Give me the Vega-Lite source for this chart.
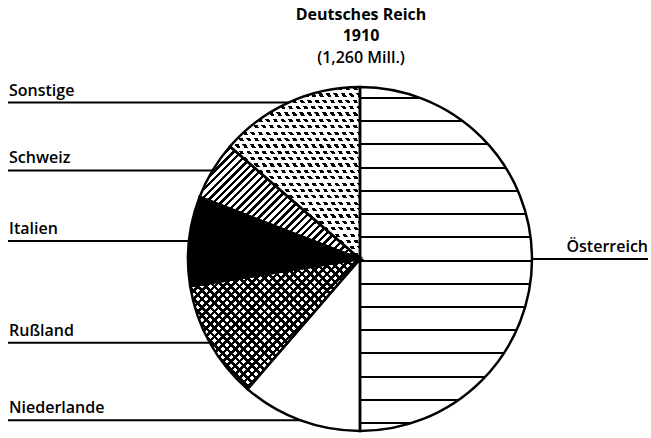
{
 "$schema": "https://vega.github.io/schema/vega-lite/v6.json",
 "width": 640, "height": 366,
 "autosize": {"type": "none"},
 "padding": {"left": 8, "right": 3, "top": 72, "bottom": 0},
 "background": "white",
 "title": {"text": ["Deutsches Reich", "1910"], "subtitle": "(1,260 Mill.)", "anchor": "middle", "dx": 33, "offset": 6, "font": "Open Sans", "fontSize": 16, "fontWeight": "bold", "lineHeight": 21, "color": "black", "subtitleFont": "Open Sans", "subtitleFontSize": 16, "subtitleFontWeight": 600, "subtitleColor": "black", "subtitleLineHeight": 21, "subtitlePadding": 6},
 "data": {"values": [
  {"Nr": 1, "Land": "Österreich", "Wert": 630},
  {"Nr": 2, "Land": "Niederlande", "Wert": 143},
  {"Nr": 3, "Land": "Rußland", "Wert": 140},
  {"Nr": 4, "Land": "Italien", "Wert": 106},
  {"Nr": 5, "Land": "Schweiz", "Wert": 69},
  {"Nr": 6, "Land": "Sonstige", "Wert": 172}
 ]},
 "transform": [
  {"stack": "Wert", "groupby": [], "offset": "normalize", "sort": [{"field": "Nr", "order": "ascending"}], "as": ["w0", "w1"]},
  {"calculate": "PI*(datum.w0+datum.w1)", "as": "mitte"},
  {"calculate": "sin(datum.mitte)", "as": "ex"},
  {"calculate": "cos(datum.mitte)", "as": "ey"}
 ],
 "layer": [
  {
   "encoding": {
    "theta": {"field": "w0", "type": "quantitative", "scale": {"domain": [0, 1], "nice": false, "zero": true}},
    "theta2": {"field": "w1"},
    "x": {"datum": 0, "type": "quantitative", "scale": {"domain": [-2.0465, 1.6744], "nice": false, "zero": false}, "axis": null},
    "y": {"datum": 0, "type": "quantitative", "scale": {"domain": [-1.0407, 1.0872], "nice": false, "zero": false}, "axis": null}
   },
   "layer": [
    {"mark": {"type": "arc", "radius": 172, "strokeWidth": 0},
     "encoding": {"fill": {"field": "Land", "type": "nominal", "legend": null, "scale": {"domain": ["Österreich", "Niederlande", "Rußland", "Italien", "Schweiz", "Sonstige"], "range": ["white", "white", "white", "black", "white", "black"]}}}},
    {"transform": [{"filter": "datum.Land === 'Österreich'"}],
     "mark": {"type": "arc", "radius": 172, "strokeWidth": 0, "fill": {"gradient": "linear", "x1": 0, "y1": 0, "x2": 0, "y2": 1, "stops": [
      {"offset": 0, "color": "transparent"},
      {"offset": 0.0292, "color": "transparent"}, {"offset": 0.0292, "color": "black"}, {"offset": 0.0348, "color": "black"}, {"offset": 0.0348, "color": "transparent"},
      {"offset": 0.0967, "color": "transparent"}, {"offset": 0.0967, "color": "black"}, {"offset": 0.1023, "color": "black"}, {"offset": 0.1023, "color": "transparent"},
      {"offset": 0.1642, "color": "transparent"}, {"offset": 0.1642, "color": "black"}, {"offset": 0.1698, "color": "black"}, {"offset": 0.1698, "color": "transparent"},
      {"offset": 0.2317, "color": "transparent"}, {"offset": 0.2317, "color": "black"}, {"offset": 0.2373, "color": "black"}, {"offset": 0.2373, "color": "transparent"},
      {"offset": 0.2992, "color": "transparent"}, {"offset": 0.2992, "color": "black"}, {"offset": 0.3048, "color": "black"}, {"offset": 0.3048, "color": "transparent"},
      {"offset": 0.3667, "color": "transparent"}, {"offset": 0.3667, "color": "black"}, {"offset": 0.3723, "color": "black"}, {"offset": 0.3723, "color": "transparent"},
      {"offset": 0.4342, "color": "transparent"}, {"offset": 0.4342, "color": "black"}, {"offset": 0.4398, "color": "black"}, {"offset": 0.4398, "color": "transparent"},
      {"offset": 0.5017, "color": "transparent"}, {"offset": 0.5017, "color": "black"}, {"offset": 0.5073, "color": "black"}, {"offset": 0.5073, "color": "transparent"},
      {"offset": 0.5692, "color": "transparent"}, {"offset": 0.5692, "color": "black"}, {"offset": 0.5748, "color": "black"}, {"offset": 0.5748, "color": "transparent"},
      {"offset": 0.6367, "color": "transparent"}, {"offset": 0.6367, "color": "black"}, {"offset": 0.6423, "color": "black"}, {"offset": 0.6423, "color": "transparent"},
      {"offset": 0.7042, "color": "transparent"}, {"offset": 0.7042, "color": "black"}, {"offset": 0.7098, "color": "black"}, {"offset": 0.7098, "color": "transparent"},
      {"offset": 0.7717, "color": "transparent"}, {"offset": 0.7717, "color": "black"}, {"offset": 0.7773, "color": "black"}, {"offset": 0.7773, "color": "transparent"},
      {"offset": 0.8392, "color": "transparent"}, {"offset": 0.8392, "color": "black"}, {"offset": 0.8448, "color": "black"}, {"offset": 0.8448, "color": "transparent"},
      {"offset": 0.9067, "color": "transparent"}, {"offset": 0.9067, "color": "black"}, {"offset": 0.9123, "color": "black"}, {"offset": 0.9123, "color": "transparent"},
      {"offset": 0.9742, "color": "transparent"}, {"offset": 0.9742, "color": "black"}, {"offset": 0.9798, "color": "black"}, {"offset": 0.9798, "color": "transparent"},
      {"offset": 1, "color": "transparent"}
     ]}}},
    {"transform": [{"filter": "datum.Land === 'Schweiz'"}],
     "mark": {"type": "arc", "radius": 172, "strokeWidth": 0, "fill": {"gradient": "linear", "x1": 0, "y1": 0, "x2": 1.1403, "y2": 0.8, "stops": [
      {"offset": 0, "color": "black"}, {"offset": 0.0125, "color": "black"}, {"offset": 0.0125, "color": "transparent"}, {"offset": 0.0278, "color": "transparent"},
      {"offset": 0.0278, "color": "black"}, {"offset": 0.0403, "color": "black"}, {"offset": 0.0403, "color": "transparent"}, {"offset": 0.0556, "color": "transparent"},
      {"offset": 0.0556, "color": "black"}, {"offset": 0.0681, "color": "black"}, {"offset": 0.0681, "color": "transparent"}, {"offset": 0.0833, "color": "transparent"},
      {"offset": 0.0833, "color": "black"}, {"offset": 0.0958, "color": "black"}, {"offset": 0.0958, "color": "transparent"}, {"offset": 0.1111, "color": "transparent"},
      {"offset": 0.1111, "color": "black"}, {"offset": 0.1236, "color": "black"}, {"offset": 0.1236, "color": "transparent"}, {"offset": 0.1389, "color": "transparent"},
      {"offset": 0.1389, "color": "black"}, {"offset": 0.1514, "color": "black"}, {"offset": 0.1514, "color": "transparent"}, {"offset": 0.1667, "color": "transparent"},
      {"offset": 0.1667, "color": "black"}, {"offset": 0.1792, "color": "black"}, {"offset": 0.1792, "color": "transparent"}, {"offset": 0.1944, "color": "transparent"},
      {"offset": 0.1944, "color": "black"}, {"offset": 0.2069, "color": "black"}, {"offset": 0.2069, "color": "transparent"}, {"offset": 0.2222, "color": "transparent"},
      {"offset": 0.2222, "color": "black"}, {"offset": 0.2347, "color": "black"}, {"offset": 0.2347, "color": "transparent"}, {"offset": 0.25, "color": "transparent"},
      {"offset": 0.25, "color": "black"}, {"offset": 0.2625, "color": "black"}, {"offset": 0.2625, "color": "transparent"}, {"offset": 0.2778, "color": "transparent"},
      {"offset": 0.2778, "color": "black"}, {"offset": 0.2903, "color": "black"}, {"offset": 0.2903, "color": "transparent"}, {"offset": 0.3056, "color": "transparent"},
      {"offset": 0.3056, "color": "black"}, {"offset": 0.3181, "color": "black"}, {"offset": 0.3181, "color": "transparent"}, {"offset": 0.3333, "color": "transparent"},
      {"offset": 0.3333, "color": "black"}, {"offset": 0.3458, "color": "black"}, {"offset": 0.3458, "color": "transparent"}, {"offset": 0.3611, "color": "transparent"},
      {"offset": 0.3611, "color": "black"}, {"offset": 0.3736, "color": "black"}, {"offset": 0.3736, "color": "transparent"}, {"offset": 0.3889, "color": "transparent"},
      {"offset": 0.3889, "color": "black"}, {"offset": 0.4014, "color": "black"}, {"offset": 0.4014, "color": "transparent"}, {"offset": 0.4167, "color": "transparent"},
      {"offset": 0.4167, "color": "black"}, {"offset": 0.4292, "color": "black"}, {"offset": 0.4292, "color": "transparent"}, {"offset": 0.4444, "color": "transparent"},
      {"offset": 0.4444, "color": "black"}, {"offset": 0.4569, "color": "black"}, {"offset": 0.4569, "color": "transparent"}, {"offset": 0.4722, "color": "transparent"},
      {"offset": 0.4722, "color": "black"}, {"offset": 0.4847, "color": "black"}, {"offset": 0.4847, "color": "transparent"}, {"offset": 0.5, "color": "transparent"},
      {"offset": 0.5, "color": "black"}, {"offset": 0.5125, "color": "black"}, {"offset": 0.5125, "color": "transparent"}, {"offset": 0.5278, "color": "transparent"},
      {"offset": 0.5278, "color": "black"}, {"offset": 0.5403, "color": "black"}, {"offset": 0.5403, "color": "transparent"}, {"offset": 0.5556, "color": "transparent"},
      {"offset": 0.5556, "color": "black"}, {"offset": 0.5681, "color": "black"}, {"offset": 0.5681, "color": "transparent"}, {"offset": 0.5833, "color": "transparent"},
      {"offset": 0.5833, "color": "black"}, {"offset": 0.5958, "color": "black"}, {"offset": 0.5958, "color": "transparent"}, {"offset": 0.6111, "color": "transparent"},
      {"offset": 0.6111, "color": "black"}, {"offset": 0.6236, "color": "black"}, {"offset": 0.6236, "color": "transparent"}, {"offset": 0.6389, "color": "transparent"},
      {"offset": 0.6389, "color": "black"}, {"offset": 0.6514, "color": "black"}, {"offset": 0.6514, "color": "transparent"}, {"offset": 0.6667, "color": "transparent"},
      {"offset": 0.6667, "color": "black"}, {"offset": 0.6792, "color": "black"}, {"offset": 0.6792, "color": "transparent"}, {"offset": 0.6944, "color": "transparent"},
      {"offset": 0.6944, "color": "black"}, {"offset": 0.7069, "color": "black"}, {"offset": 0.7069, "color": "transparent"}, {"offset": 0.7222, "color": "transparent"},
      {"offset": 0.7222, "color": "black"}, {"offset": 0.7347, "color": "black"}, {"offset": 0.7347, "color": "transparent"}, {"offset": 0.75, "color": "transparent"},
      {"offset": 0.75, "color": "black"}, {"offset": 0.7625, "color": "black"}, {"offset": 0.7625, "color": "transparent"}, {"offset": 0.7778, "color": "transparent"},
      {"offset": 0.7778, "color": "black"}, {"offset": 0.7903, "color": "black"}, {"offset": 0.7903, "color": "transparent"}, {"offset": 0.8056, "color": "transparent"},
      {"offset": 0.8056, "color": "black"}, {"offset": 0.8181, "color": "black"}, {"offset": 0.8181, "color": "transparent"}, {"offset": 0.8333, "color": "transparent"},
      {"offset": 0.8333, "color": "black"}, {"offset": 0.8458, "color": "black"}, {"offset": 0.8458, "color": "transparent"}, {"offset": 0.8611, "color": "transparent"},
      {"offset": 0.8611, "color": "black"}, {"offset": 0.8736, "color": "black"}, {"offset": 0.8736, "color": "transparent"}, {"offset": 0.8889, "color": "transparent"},
      {"offset": 0.8889, "color": "black"}, {"offset": 0.9014, "color": "black"}, {"offset": 0.9014, "color": "transparent"}, {"offset": 0.9167, "color": "transparent"},
      {"offset": 0.9167, "color": "black"}, {"offset": 0.9292, "color": "black"}, {"offset": 0.9292, "color": "transparent"}, {"offset": 0.9444, "color": "transparent"},
      {"offset": 0.9444, "color": "black"}, {"offset": 0.9569, "color": "black"}, {"offset": 0.9569, "color": "transparent"}, {"offset": 0.9722, "color": "transparent"},
      {"offset": 0.9722, "color": "black"}, {"offset": 0.9847, "color": "black"}, {"offset": 0.9847, "color": "transparent"}, {"offset": 1, "color": "transparent"}
     ]}}},
    {"transform": [{"filter": "datum.Land === 'Rußland'"}],
     "mark": {"type": "arc", "radius": 172, "strokeWidth": 0, "fill": {"gradient": "linear", "x1": 0, "y1": 0, "x2": 1.1132, "y2": 0.8523, "stops": [
      {"offset": 0, "color": "black"}, {"offset": 0.0125, "color": "black"}, {"offset": 0.0125, "color": "transparent"}, {"offset": 0.0278, "color": "transparent"},
      {"offset": 0.0278, "color": "black"}, {"offset": 0.0403, "color": "black"}, {"offset": 0.0403, "color": "transparent"}, {"offset": 0.0556, "color": "transparent"},
      {"offset": 0.0556, "color": "black"}, {"offset": 0.0681, "color": "black"}, {"offset": 0.0681, "color": "transparent"}, {"offset": 0.0833, "color": "transparent"},
      {"offset": 0.0833, "color": "black"}, {"offset": 0.0958, "color": "black"}, {"offset": 0.0958, "color": "transparent"}, {"offset": 0.1111, "color": "transparent"},
      {"offset": 0.1111, "color": "black"}, {"offset": 0.1236, "color": "black"}, {"offset": 0.1236, "color": "transparent"}, {"offset": 0.1389, "color": "transparent"},
      {"offset": 0.1389, "color": "black"}, {"offset": 0.1514, "color": "black"}, {"offset": 0.1514, "color": "transparent"}, {"offset": 0.1667, "color": "transparent"},
      {"offset": 0.1667, "color": "black"}, {"offset": 0.1792, "color": "black"}, {"offset": 0.1792, "color": "transparent"}, {"offset": 0.1944, "color": "transparent"},
      {"offset": 0.1944, "color": "black"}, {"offset": 0.2069, "color": "black"}, {"offset": 0.2069, "color": "transparent"}, {"offset": 0.2222, "color": "transparent"},
      {"offset": 0.2222, "color": "black"}, {"offset": 0.2347, "color": "black"}, {"offset": 0.2347, "color": "transparent"}, {"offset": 0.25, "color": "transparent"},
      {"offset": 0.25, "color": "black"}, {"offset": 0.2625, "color": "black"}, {"offset": 0.2625, "color": "transparent"}, {"offset": 0.2778, "color": "transparent"},
      {"offset": 0.2778, "color": "black"}, {"offset": 0.2903, "color": "black"}, {"offset": 0.2903, "color": "transparent"}, {"offset": 0.3056, "color": "transparent"},
      {"offset": 0.3056, "color": "black"}, {"offset": 0.3181, "color": "black"}, {"offset": 0.3181, "color": "transparent"}, {"offset": 0.3333, "color": "transparent"},
      {"offset": 0.3333, "color": "black"}, {"offset": 0.3458, "color": "black"}, {"offset": 0.3458, "color": "transparent"}, {"offset": 0.3611, "color": "transparent"},
      {"offset": 0.3611, "color": "black"}, {"offset": 0.3736, "color": "black"}, {"offset": 0.3736, "color": "transparent"}, {"offset": 0.3889, "color": "transparent"},
      {"offset": 0.3889, "color": "black"}, {"offset": 0.4014, "color": "black"}, {"offset": 0.4014, "color": "transparent"}, {"offset": 0.4167, "color": "transparent"},
      {"offset": 0.4167, "color": "black"}, {"offset": 0.4292, "color": "black"}, {"offset": 0.4292, "color": "transparent"}, {"offset": 0.4444, "color": "transparent"},
      {"offset": 0.4444, "color": "black"}, {"offset": 0.4569, "color": "black"}, {"offset": 0.4569, "color": "transparent"}, {"offset": 0.4722, "color": "transparent"},
      {"offset": 0.4722, "color": "black"}, {"offset": 0.4847, "color": "black"}, {"offset": 0.4847, "color": "transparent"}, {"offset": 0.5, "color": "transparent"},
      {"offset": 0.5, "color": "black"}, {"offset": 0.5125, "color": "black"}, {"offset": 0.5125, "color": "transparent"}, {"offset": 0.5278, "color": "transparent"},
      {"offset": 0.5278, "color": "black"}, {"offset": 0.5403, "color": "black"}, {"offset": 0.5403, "color": "transparent"}, {"offset": 0.5556, "color": "transparent"},
      {"offset": 0.5556, "color": "black"}, {"offset": 0.5681, "color": "black"}, {"offset": 0.5681, "color": "transparent"}, {"offset": 0.5833, "color": "transparent"},
      {"offset": 0.5833, "color": "black"}, {"offset": 0.5958, "color": "black"}, {"offset": 0.5958, "color": "transparent"}, {"offset": 0.6111, "color": "transparent"},
      {"offset": 0.6111, "color": "black"}, {"offset": 0.6236, "color": "black"}, {"offset": 0.6236, "color": "transparent"}, {"offset": 0.6389, "color": "transparent"},
      {"offset": 0.6389, "color": "black"}, {"offset": 0.6514, "color": "black"}, {"offset": 0.6514, "color": "transparent"}, {"offset": 0.6667, "color": "transparent"},
      {"offset": 0.6667, "color": "black"}, {"offset": 0.6792, "color": "black"}, {"offset": 0.6792, "color": "transparent"}, {"offset": 0.6944, "color": "transparent"},
      {"offset": 0.6944, "color": "black"}, {"offset": 0.7069, "color": "black"}, {"offset": 0.7069, "color": "transparent"}, {"offset": 0.7222, "color": "transparent"},
      {"offset": 0.7222, "color": "black"}, {"offset": 0.7347, "color": "black"}, {"offset": 0.7347, "color": "transparent"}, {"offset": 0.75, "color": "transparent"},
      {"offset": 0.75, "color": "black"}, {"offset": 0.7625, "color": "black"}, {"offset": 0.7625, "color": "transparent"}, {"offset": 0.7778, "color": "transparent"},
      {"offset": 0.7778, "color": "black"}, {"offset": 0.7903, "color": "black"}, {"offset": 0.7903, "color": "transparent"}, {"offset": 0.8056, "color": "transparent"},
      {"offset": 0.8056, "color": "black"}, {"offset": 0.8181, "color": "black"}, {"offset": 0.8181, "color": "transparent"}, {"offset": 0.8333, "color": "transparent"},
      {"offset": 0.8333, "color": "black"}, {"offset": 0.8458, "color": "black"}, {"offset": 0.8458, "color": "transparent"}, {"offset": 0.8611, "color": "transparent"},
      {"offset": 0.8611, "color": "black"}, {"offset": 0.8736, "color": "black"}, {"offset": 0.8736, "color": "transparent"}, {"offset": 0.8889, "color": "transparent"},
      {"offset": 0.8889, "color": "black"}, {"offset": 0.9014, "color": "black"}, {"offset": 0.9014, "color": "transparent"}, {"offset": 0.9167, "color": "transparent"},
      {"offset": 0.9167, "color": "black"}, {"offset": 0.9292, "color": "black"}, {"offset": 0.9292, "color": "transparent"}, {"offset": 0.9444, "color": "transparent"},
      {"offset": 0.9444, "color": "black"}, {"offset": 0.9569, "color": "black"}, {"offset": 0.9569, "color": "transparent"}, {"offset": 0.9722, "color": "transparent"},
      {"offset": 0.9722, "color": "black"}, {"offset": 0.9847, "color": "black"}, {"offset": 0.9847, "color": "transparent"}, {"offset": 1, "color": "transparent"}
     ]}}},
    {"transform": [{"filter": "datum.Land === 'Rußland'"}],
     "mark": {"type": "arc", "radius": 172, "strokeWidth": 0, "fill": {"gradient": "linear", "x1": 0, "y1": 1, "x2": 1.1132, "y2": 0.1477, "stops": [
      {"offset": 0, "color": "black"}, {"offset": 0.0125, "color": "black"}, {"offset": 0.0125, "color": "transparent"}, {"offset": 0.0278, "color": "transparent"},
      {"offset": 0.0278, "color": "black"}, {"offset": 0.0403, "color": "black"}, {"offset": 0.0403, "color": "transparent"}, {"offset": 0.0556, "color": "transparent"},
      {"offset": 0.0556, "color": "black"}, {"offset": 0.0681, "color": "black"}, {"offset": 0.0681, "color": "transparent"}, {"offset": 0.0833, "color": "transparent"},
      {"offset": 0.0833, "color": "black"}, {"offset": 0.0958, "color": "black"}, {"offset": 0.0958, "color": "transparent"}, {"offset": 0.1111, "color": "transparent"},
      {"offset": 0.1111, "color": "black"}, {"offset": 0.1236, "color": "black"}, {"offset": 0.1236, "color": "transparent"}, {"offset": 0.1389, "color": "transparent"},
      {"offset": 0.1389, "color": "black"}, {"offset": 0.1514, "color": "black"}, {"offset": 0.1514, "color": "transparent"}, {"offset": 0.1667, "color": "transparent"},
      {"offset": 0.1667, "color": "black"}, {"offset": 0.1792, "color": "black"}, {"offset": 0.1792, "color": "transparent"}, {"offset": 0.1944, "color": "transparent"},
      {"offset": 0.1944, "color": "black"}, {"offset": 0.2069, "color": "black"}, {"offset": 0.2069, "color": "transparent"}, {"offset": 0.2222, "color": "transparent"},
      {"offset": 0.2222, "color": "black"}, {"offset": 0.2347, "color": "black"}, {"offset": 0.2347, "color": "transparent"}, {"offset": 0.25, "color": "transparent"},
      {"offset": 0.25, "color": "black"}, {"offset": 0.2625, "color": "black"}, {"offset": 0.2625, "color": "transparent"}, {"offset": 0.2778, "color": "transparent"},
      {"offset": 0.2778, "color": "black"}, {"offset": 0.2903, "color": "black"}, {"offset": 0.2903, "color": "transparent"}, {"offset": 0.3056, "color": "transparent"},
      {"offset": 0.3056, "color": "black"}, {"offset": 0.3181, "color": "black"}, {"offset": 0.3181, "color": "transparent"}, {"offset": 0.3333, "color": "transparent"},
      {"offset": 0.3333, "color": "black"}, {"offset": 0.3458, "color": "black"}, {"offset": 0.3458, "color": "transparent"}, {"offset": 0.3611, "color": "transparent"},
      {"offset": 0.3611, "color": "black"}, {"offset": 0.3736, "color": "black"}, {"offset": 0.3736, "color": "transparent"}, {"offset": 0.3889, "color": "transparent"},
      {"offset": 0.3889, "color": "black"}, {"offset": 0.4014, "color": "black"}, {"offset": 0.4014, "color": "transparent"}, {"offset": 0.4167, "color": "transparent"},
      {"offset": 0.4167, "color": "black"}, {"offset": 0.4292, "color": "black"}, {"offset": 0.4292, "color": "transparent"}, {"offset": 0.4444, "color": "transparent"},
      {"offset": 0.4444, "color": "black"}, {"offset": 0.4569, "color": "black"}, {"offset": 0.4569, "color": "transparent"}, {"offset": 0.4722, "color": "transparent"},
      {"offset": 0.4722, "color": "black"}, {"offset": 0.4847, "color": "black"}, {"offset": 0.4847, "color": "transparent"}, {"offset": 0.5, "color": "transparent"},
      {"offset": 0.5, "color": "black"}, {"offset": 0.5125, "color": "black"}, {"offset": 0.5125, "color": "transparent"}, {"offset": 0.5278, "color": "transparent"},
      {"offset": 0.5278, "color": "black"}, {"offset": 0.5403, "color": "black"}, {"offset": 0.5403, "color": "transparent"}, {"offset": 0.5556, "color": "transparent"},
      {"offset": 0.5556, "color": "black"}, {"offset": 0.5681, "color": "black"}, {"offset": 0.5681, "color": "transparent"}, {"offset": 0.5833, "color": "transparent"},
      {"offset": 0.5833, "color": "black"}, {"offset": 0.5958, "color": "black"}, {"offset": 0.5958, "color": "transparent"}, {"offset": 0.6111, "color": "transparent"},
      {"offset": 0.6111, "color": "black"}, {"offset": 0.6236, "color": "black"}, {"offset": 0.6236, "color": "transparent"}, {"offset": 0.6389, "color": "transparent"},
      {"offset": 0.6389, "color": "black"}, {"offset": 0.6514, "color": "black"}, {"offset": 0.6514, "color": "transparent"}, {"offset": 0.6667, "color": "transparent"},
      {"offset": 0.6667, "color": "black"}, {"offset": 0.6792, "color": "black"}, {"offset": 0.6792, "color": "transparent"}, {"offset": 0.6944, "color": "transparent"},
      {"offset": 0.6944, "color": "black"}, {"offset": 0.7069, "color": "black"}, {"offset": 0.7069, "color": "transparent"}, {"offset": 0.7222, "color": "transparent"},
      {"offset": 0.7222, "color": "black"}, {"offset": 0.7347, "color": "black"}, {"offset": 0.7347, "color": "transparent"}, {"offset": 0.75, "color": "transparent"},
      {"offset": 0.75, "color": "black"}, {"offset": 0.7625, "color": "black"}, {"offset": 0.7625, "color": "transparent"}, {"offset": 0.7778, "color": "transparent"},
      {"offset": 0.7778, "color": "black"}, {"offset": 0.7903, "color": "black"}, {"offset": 0.7903, "color": "transparent"}, {"offset": 0.8056, "color": "transparent"},
      {"offset": 0.8056, "color": "black"}, {"offset": 0.8181, "color": "black"}, {"offset": 0.8181, "color": "transparent"}, {"offset": 0.8333, "color": "transparent"},
      {"offset": 0.8333, "color": "black"}, {"offset": 0.8458, "color": "black"}, {"offset": 0.8458, "color": "transparent"}, {"offset": 0.8611, "color": "transparent"},
      {"offset": 0.8611, "color": "black"}, {"offset": 0.8736, "color": "black"}, {"offset": 0.8736, "color": "transparent"}, {"offset": 0.8889, "color": "transparent"},
      {"offset": 0.8889, "color": "black"}, {"offset": 0.9014, "color": "black"}, {"offset": 0.9014, "color": "transparent"}, {"offset": 0.9167, "color": "transparent"},
      {"offset": 0.9167, "color": "black"}, {"offset": 0.9292, "color": "black"}, {"offset": 0.9292, "color": "transparent"}, {"offset": 0.9444, "color": "transparent"},
      {"offset": 0.9444, "color": "black"}, {"offset": 0.9569, "color": "black"}, {"offset": 0.9569, "color": "transparent"}, {"offset": 0.9722, "color": "transparent"},
      {"offset": 0.9722, "color": "black"}, {"offset": 0.9847, "color": "black"}, {"offset": 0.9847, "color": "transparent"}, {"offset": 1, "color": "transparent"}
     ]}}},
    {"transform": [{"filter": "datum.Land === 'Sonstige'"}],
     "mark": {"type": "arc", "radius": 172, "strokeWidth": 0, "fill": {"gradient": "linear", "x1": 0, "y1": 0, "x2": 0, "y2": 1, "stops": [
      {"offset": 0, "color": "transparent"}, {"offset": 0.0185, "color": "transparent"}, {"offset": 0.0185, "color": "white"}, {"offset": 0.037, "color": "white"},
      {"offset": 0.037, "color": "transparent"}, {"offset": 0.0556, "color": "transparent"}, {"offset": 0.0556, "color": "white"}, {"offset": 0.0741, "color": "white"},
      {"offset": 0.0741, "color": "transparent"}, {"offset": 0.0926, "color": "transparent"}, {"offset": 0.0926, "color": "white"}, {"offset": 0.1111, "color": "white"},
      {"offset": 0.1111, "color": "transparent"}, {"offset": 0.1296, "color": "transparent"}, {"offset": 0.1296, "color": "white"}, {"offset": 0.1481, "color": "white"},
      {"offset": 0.1481, "color": "transparent"}, {"offset": 0.1667, "color": "transparent"}, {"offset": 0.1667, "color": "white"}, {"offset": 0.1852, "color": "white"},
      {"offset": 0.1852, "color": "transparent"}, {"offset": 0.2037, "color": "transparent"}, {"offset": 0.2037, "color": "white"}, {"offset": 0.2222, "color": "white"},
      {"offset": 0.2222, "color": "transparent"}, {"offset": 0.2407, "color": "transparent"}, {"offset": 0.2407, "color": "white"}, {"offset": 0.2593, "color": "white"},
      {"offset": 0.2593, "color": "transparent"}, {"offset": 0.2778, "color": "transparent"}, {"offset": 0.2778, "color": "white"}, {"offset": 0.2963, "color": "white"},
      {"offset": 0.2963, "color": "transparent"}, {"offset": 0.3148, "color": "transparent"}, {"offset": 0.3148, "color": "white"}, {"offset": 0.3333, "color": "white"},
      {"offset": 0.3333, "color": "transparent"}, {"offset": 0.3519, "color": "transparent"}, {"offset": 0.3519, "color": "white"}, {"offset": 0.3704, "color": "white"},
      {"offset": 0.3704, "color": "transparent"}, {"offset": 0.3889, "color": "transparent"}, {"offset": 0.3889, "color": "white"}, {"offset": 0.4074, "color": "white"},
      {"offset": 0.4074, "color": "transparent"}, {"offset": 0.4259, "color": "transparent"}, {"offset": 0.4259, "color": "white"}, {"offset": 0.4444, "color": "white"},
      {"offset": 0.4444, "color": "transparent"}, {"offset": 0.463, "color": "transparent"}, {"offset": 0.463, "color": "white"}, {"offset": 0.4815, "color": "white"},
      {"offset": 0.4815, "color": "transparent"}, {"offset": 0.5, "color": "transparent"}, {"offset": 0.5, "color": "white"}, {"offset": 0.5185, "color": "white"},
      {"offset": 0.5185, "color": "transparent"}, {"offset": 0.537, "color": "transparent"}, {"offset": 0.537, "color": "white"}, {"offset": 0.5556, "color": "white"},
      {"offset": 0.5556, "color": "transparent"}, {"offset": 0.5741, "color": "transparent"}, {"offset": 0.5741, "color": "white"}, {"offset": 0.5926, "color": "white"},
      {"offset": 0.5926, "color": "transparent"}, {"offset": 0.6111, "color": "transparent"}, {"offset": 0.6111, "color": "white"}, {"offset": 0.6296, "color": "white"},
      {"offset": 0.6296, "color": "transparent"}, {"offset": 0.6481, "color": "transparent"}, {"offset": 0.6481, "color": "white"}, {"offset": 0.6667, "color": "white"},
      {"offset": 0.6667, "color": "transparent"}, {"offset": 0.6852, "color": "transparent"}, {"offset": 0.6852, "color": "white"}, {"offset": 0.7037, "color": "white"},
      {"offset": 0.7037, "color": "transparent"}, {"offset": 0.7222, "color": "transparent"}, {"offset": 0.7222, "color": "white"}, {"offset": 0.7407, "color": "white"},
      {"offset": 0.7407, "color": "transparent"}, {"offset": 0.7593, "color": "transparent"}, {"offset": 0.7593, "color": "white"}, {"offset": 0.7778, "color": "white"},
      {"offset": 0.7778, "color": "transparent"}, {"offset": 0.7963, "color": "transparent"}, {"offset": 0.7963, "color": "white"}, {"offset": 0.8148, "color": "white"},
      {"offset": 0.8148, "color": "transparent"}, {"offset": 0.8333, "color": "transparent"}, {"offset": 0.8333, "color": "white"}, {"offset": 0.8519, "color": "white"},
      {"offset": 0.8519, "color": "transparent"}, {"offset": 0.8704, "color": "transparent"}, {"offset": 0.8704, "color": "white"}, {"offset": 0.8889, "color": "white"},
      {"offset": 0.8889, "color": "transparent"}, {"offset": 0.9074, "color": "transparent"}, {"offset": 0.9074, "color": "white"}, {"offset": 0.9259, "color": "white"},
      {"offset": 0.9259, "color": "transparent"}, {"offset": 0.9444, "color": "transparent"}, {"offset": 0.9444, "color": "white"}, {"offset": 0.963, "color": "white"},
      {"offset": 0.963, "color": "transparent"}, {"offset": 0.9815, "color": "transparent"}, {"offset": 0.9815, "color": "white"}, {"offset": 1, "color": "white"}
     ]}}},
    {"transform": [{"filter": "datum.Land === 'Sonstige'"}],
     "mark": {"type": "arc", "radius": 172, "strokeWidth": 0, "fill": {"gradient": "linear", "x1": 0, "y1": 0.8, "x2": 1, "y2": 0, "stops": [
      {"offset": 0, "color": "transparent"}, {"offset": 0.0179, "color": "transparent"}, {"offset": 0.0179, "color": "white"}, {"offset": 0.0357, "color": "white"},
      {"offset": 0.0357, "color": "transparent"}, {"offset": 0.0536, "color": "transparent"}, {"offset": 0.0536, "color": "white"}, {"offset": 0.0714, "color": "white"},
      {"offset": 0.0714, "color": "transparent"}, {"offset": 0.0893, "color": "transparent"}, {"offset": 0.0893, "color": "white"}, {"offset": 0.1071, "color": "white"},
      {"offset": 0.1071, "color": "transparent"}, {"offset": 0.125, "color": "transparent"}, {"offset": 0.125, "color": "white"}, {"offset": 0.1429, "color": "white"},
      {"offset": 0.1429, "color": "transparent"}, {"offset": 0.1607, "color": "transparent"}, {"offset": 0.1607, "color": "white"}, {"offset": 0.1786, "color": "white"},
      {"offset": 0.1786, "color": "transparent"}, {"offset": 0.1964, "color": "transparent"}, {"offset": 0.1964, "color": "white"}, {"offset": 0.2143, "color": "white"},
      {"offset": 0.2143, "color": "transparent"}, {"offset": 0.2321, "color": "transparent"}, {"offset": 0.2321, "color": "white"}, {"offset": 0.25, "color": "white"},
      {"offset": 0.25, "color": "transparent"}, {"offset": 0.2679, "color": "transparent"}, {"offset": 0.2679, "color": "white"}, {"offset": 0.2857, "color": "white"},
      {"offset": 0.2857, "color": "transparent"}, {"offset": 0.3036, "color": "transparent"}, {"offset": 0.3036, "color": "white"}, {"offset": 0.3214, "color": "white"},
      {"offset": 0.3214, "color": "transparent"}, {"offset": 0.3393, "color": "transparent"}, {"offset": 0.3393, "color": "white"}, {"offset": 0.3571, "color": "white"},
      {"offset": 0.3571, "color": "transparent"}, {"offset": 0.375, "color": "transparent"}, {"offset": 0.375, "color": "white"}, {"offset": 0.3929, "color": "white"},
      {"offset": 0.3929, "color": "transparent"}, {"offset": 0.4107, "color": "transparent"}, {"offset": 0.4107, "color": "white"}, {"offset": 0.4286, "color": "white"},
      {"offset": 0.4286, "color": "transparent"}, {"offset": 0.4464, "color": "transparent"}, {"offset": 0.4464, "color": "white"}, {"offset": 0.4643, "color": "white"},
      {"offset": 0.4643, "color": "transparent"}, {"offset": 0.4821, "color": "transparent"}, {"offset": 0.4821, "color": "white"}, {"offset": 0.5, "color": "white"},
      {"offset": 0.5, "color": "transparent"}, {"offset": 0.5179, "color": "transparent"}, {"offset": 0.5179, "color": "white"}, {"offset": 0.5357, "color": "white"},
      {"offset": 0.5357, "color": "transparent"}, {"offset": 0.5536, "color": "transparent"}, {"offset": 0.5536, "color": "white"}, {"offset": 0.5714, "color": "white"},
      {"offset": 0.5714, "color": "transparent"}, {"offset": 0.5893, "color": "transparent"}, {"offset": 0.5893, "color": "white"}, {"offset": 0.6071, "color": "white"},
      {"offset": 0.6071, "color": "transparent"}, {"offset": 0.625, "color": "transparent"}, {"offset": 0.625, "color": "white"}, {"offset": 0.6429, "color": "white"},
      {"offset": 0.6429, "color": "transparent"}, {"offset": 0.6607, "color": "transparent"}, {"offset": 0.6607, "color": "white"}, {"offset": 0.6786, "color": "white"},
      {"offset": 0.6786, "color": "transparent"}, {"offset": 0.6964, "color": "transparent"}, {"offset": 0.6964, "color": "white"}, {"offset": 0.7143, "color": "white"},
      {"offset": 0.7143, "color": "transparent"}, {"offset": 0.7321, "color": "transparent"}, {"offset": 0.7321, "color": "white"}, {"offset": 0.75, "color": "white"},
      {"offset": 0.75, "color": "transparent"}, {"offset": 0.7679, "color": "transparent"}, {"offset": 0.7679, "color": "white"}, {"offset": 0.7857, "color": "white"},
      {"offset": 0.7857, "color": "transparent"}, {"offset": 0.8036, "color": "transparent"}, {"offset": 0.8036, "color": "white"}, {"offset": 0.8214, "color": "white"},
      {"offset": 0.8214, "color": "transparent"}, {"offset": 0.8393, "color": "transparent"}, {"offset": 0.8393, "color": "white"}, {"offset": 0.8571, "color": "white"},
      {"offset": 0.8571, "color": "transparent"}, {"offset": 0.875, "color": "transparent"}, {"offset": 0.875, "color": "white"}, {"offset": 0.8929, "color": "white"},
      {"offset": 0.8929, "color": "transparent"}, {"offset": 0.9107, "color": "transparent"}, {"offset": 0.9107, "color": "white"}, {"offset": 0.9286, "color": "white"},
      {"offset": 0.9286, "color": "transparent"}, {"offset": 0.9464, "color": "transparent"}, {"offset": 0.9464, "color": "white"}, {"offset": 0.9643, "color": "white"},
      {"offset": 0.9643, "color": "transparent"}, {"offset": 0.9821, "color": "transparent"}, {"offset": 0.9821, "color": "white"}, {"offset": 1, "color": "white"}
     ]}}},
    {"mark": {"type": "arc", "radius": 172, "filled": false, "stroke": "black", "strokeWidth": 2.5}}
   ]
  },
  {
   "transform": [{"filter": "datum.ex < 0"}],
   "mark": {"type": "rule", "color": "black", "strokeWidth": 2},
   "encoding": {
    "x": {"field": "ex", "type": "quantitative", "scale": {"domain": [-2.0465, 1.6744], "nice": false, "zero": false}, "axis": null},
    "x2": {"value": 0},
    "y": {"field": "ey", "type": "quantitative", "scale": {"domain": [-1.0407, 1.0872], "nice": false, "zero": false}, "axis": null}
   }
  },
  {
   "transform": [{"filter": "datum.ex > 0"}],
   "mark": {"type": "rule", "color": "black", "strokeWidth": 2},
   "encoding": {
    "x": {"field": "ex", "type": "quantitative", "scale": {"domain": [-2.0465, 1.6744], "nice": false, "zero": false}, "axis": null},
    "x2": {"value": "width"},
    "y": {"field": "ey", "type": "quantitative", "scale": {"domain": [-1.0407, 1.0872], "nice": false, "zero": false}, "axis": null}
   }
  },
  {
   "transform": [{"filter": "datum.ex < 0"}],
   "mark": {"type": "text", "align": "left", "baseline": "alphabetic", "dx": 1, "dy": -7, "font": "Open Sans", "fontSize": 16, "fontWeight": 600, "color": "black"},
   "encoding": {
    "x": {"value": 0},
    "y": {"field": "ey", "type": "quantitative", "scale": {"domain": [-1.0407, 1.0872], "nice": false, "zero": false}, "axis": null},
    "text": {"field": "Land", "type": "nominal"}
   }
  },
  {
   "transform": [{"filter": "datum.ex > 0"}],
   "mark": {"type": "text", "align": "right", "baseline": "alphabetic", "dy": -7, "font": "Open Sans", "fontSize": 16, "fontWeight": 600, "color": "black"},
   "encoding": {
    "x": {"value": "width"},
    "y": {"field": "ey", "type": "quantitative", "scale": {"domain": [-1.0407, 1.0872], "nice": false, "zero": false}, "axis": null},
    "text": {"field": "Land", "type": "nominal"}
   }
  }
 ],
 "config": {"view": {"stroke": null}}
}
